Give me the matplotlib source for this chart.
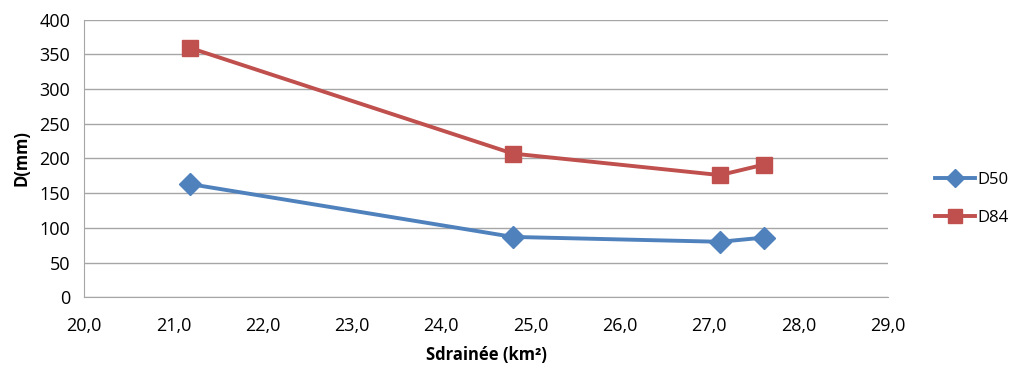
import matplotlib
matplotlib.use("Agg")
import matplotlib.pyplot as plt

plt.rcParams['font.family'] = ['Open Sans', 'DejaVu Sans']

surface = [21.19, 24.80, 27.12, 27.61]
d50 = [163, 87, 80, 86]
d84 = [359, 207, 176, 191]

blue = "#4F81BD"
red = "#C0504D"

fig = plt.figure(figsize=(10.15, 3.68), dpi=100)
ax = fig.add_axes([0.0828, 0.192, 0.7920, 0.755])

ax.plot(surface, d50, color=blue, lw=2.8, marker="D", ms=11, label="D50", zorder=3)
ax.plot(surface, d84, color=red, lw=2.8, marker="s", ms=11.5, label="D84", zorder=3)

ax.set_xlim(20, 29)
ax.set_ylim(0, 400)
ax.set_xticks(range(20, 30))
ax.set_xticklabels([f"{v},0" for v in range(20, 30)])
ax.set_yticks(range(0, 401, 50))

ax.grid(axis="y", color="#A6A6A6", lw=1)
ax.set_axisbelow(True)
for s in ["top", "right"]:
    ax.spines[s].set_visible(False)
for s in ["left", "bottom"]:
    ax.spines[s].set_color("#A6A6A6")
ax.tick_params(length=0, labelsize=13, colors="black", pad=10)
ax.tick_params(axis="x", pad=14)

ax.set_xlabel("Sdrainée (km²)", fontsize=12, fontweight="bold", labelpad=8)
ax.set_ylabel("D(mm)", fontsize=12, fontweight="bold", labelpad=6)

fig.legend(loc="upper left", bbox_to_anchor=(0.921, 0.532), frameon=False,
           fontsize=12, handlelength=2.4, labelspacing=1.3, handletextpad=0.15,
           borderpad=0, borderaxespad=0, markerscale=0.85)

fig.savefig("out.png", dpi=100)
